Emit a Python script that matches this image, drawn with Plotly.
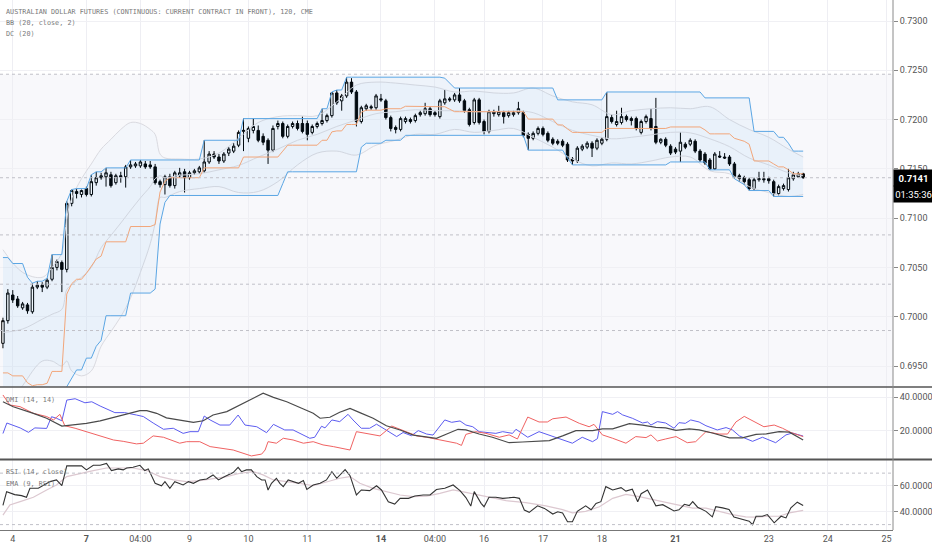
import plotly.graph_objects as go
from plotly.subplots import make_subplots

# 120-minute bars, index 0..163
opens = [
    0.6973, 0.6996, 0.7022, 0.7018, 0.7009, 0.7012, 0.7005, 0.7030, 0.7032, 0.7030,
    0.7038, 0.7050, 0.7055, 0.7048, 0.7115, 0.7127, 0.7124, 0.7130, 0.7124, 0.7136,
    0.7141, 0.7142, 0.7144, 0.7136, 0.7143, 0.7142, 0.7152, 0.7153, 0.7153, 0.7155,
    0.7154, 0.7152, 0.7137, 0.7134, 0.7142, 0.7133, 0.7143, 0.7147, 0.7141, 0.7146,
    0.7147, 0.7148, 0.7157, 0.7165, 0.7162, 0.7158, 0.7166, 0.7168, 0.7174, 0.7188,
    0.7181, 0.7189, 0.7189, 0.7183, 0.7179, 0.7169, 0.7193, 0.7196, 0.7183, 0.7193,
    0.7196, 0.7196, 0.7196, 0.7187, 0.7193, 0.7196, 0.7199, 0.7204, 0.7227, 0.7219,
    0.7224, 0.7238, 0.7228, 0.7198, 0.7211, 0.7213, 0.7212, 0.7221, 0.7219, 0.7202,
    0.7192, 0.7190, 0.7198, 0.7200, 0.7199, 0.7205, 0.7206, 0.7211, 0.7207, 0.7203,
    0.7217, 0.7221, 0.7220, 0.7225, 0.7219, 0.7210, 0.7197, 0.7220, 0.7198, 0.7188,
    0.7208, 0.7205, 0.7207, 0.7204, 0.7205, 0.7207, 0.7207, 0.7185, 0.7181, 0.7186,
    0.7191, 0.7186, 0.7180, 0.7178, 0.7178, 0.7175, 0.7160, 0.7158, 0.7170, 0.7172,
    0.7176, 0.7171, 0.7176, 0.7180, 0.7202, 0.7195, 0.7197, 0.7203, 0.7201, 0.7201,
    0.7187, 0.7198, 0.7201, 0.7193, 0.7177, 0.7180, 0.7173, 0.7170, 0.7168, 0.7175,
    0.7175, 0.7178, 0.7168, 0.7165, 0.7159, 0.7150, 0.7163, 0.7162, 0.7162, 0.7155,
    0.7143, 0.7141, 0.7139, 0.7130, 0.7139, 0.7140, 0.7140, 0.7137, 0.7125, 0.7130,
    0.7129, 0.7140, 0.7142, 0.7145,
]
highs = [
    0.6999, 0.7028, 0.7027, 0.7021, 0.7015, 0.7014, 0.7034, 0.7036, 0.7035, 0.7039,
    0.7063, 0.7058, 0.7057, 0.7117, 0.7129, 0.7130, 0.7129, 0.7132, 0.7144, 0.7147,
    0.7146, 0.7151, 0.7147, 0.7145, 0.7147, 0.7154, 0.7159, 0.7157, 0.7159, 0.7158,
    0.7158, 0.7155, 0.7139, 0.7144, 0.7145, 0.7148, 0.7151, 0.7150, 0.7148, 0.7150,
    0.7153, 0.7179, 0.7168, 0.7168, 0.7165, 0.7167, 0.7172, 0.7176, 0.7189, 0.7201,
    0.7193, 0.7201, 0.7194, 0.7186, 0.7181, 0.7194, 0.7199, 0.7198, 0.7195, 0.7198,
    0.7199, 0.7203, 0.7199, 0.7195, 0.7198, 0.7211, 0.7206, 0.7228, 0.7230, 0.7226,
    0.7243, 0.7242, 0.7230, 0.7214, 0.7216, 0.7215, 0.7226, 0.7226, 0.7221, 0.7204,
    0.7194, 0.7203, 0.7203, 0.7202, 0.7206, 0.7209, 0.7217, 0.7213, 0.7209, 0.7221,
    0.7230, 0.7223, 0.7227, 0.7232, 0.7221, 0.7212, 0.7222, 0.7222, 0.7200, 0.7210,
    0.7210, 0.7214, 0.7209, 0.7209, 0.7209, 0.7218, 0.7209, 0.7187, 0.7188, 0.7193,
    0.7193, 0.7188, 0.7182, 0.7180, 0.7180, 0.7177, 0.7162, 0.7173, 0.7175, 0.7178,
    0.7178, 0.7181, 0.7182, 0.7228, 0.7205, 0.7209, 0.7212, 0.7205, 0.7203, 0.7203,
    0.7200, 0.7205, 0.7211, 0.7222, 0.7181, 0.7182, 0.7175, 0.7172, 0.7187, 0.7177,
    0.7181, 0.7180, 0.7170, 0.7167, 0.7161, 0.7167, 0.7168, 0.7166, 0.7164, 0.7157,
    0.7145, 0.7143, 0.7141, 0.7141, 0.7147, 0.7147, 0.7142, 0.7139, 0.7134, 0.7135,
    0.7150, 0.7147, 0.7147, 0.7146,
]
lows = [
    0.6968, 0.6993, 0.7014, 0.7009, 0.7007, 0.7003, 0.7003, 0.7028, 0.7025, 0.7028,
    0.7036, 0.7047, 0.7025, 0.7045, 0.7112, 0.7120, 0.7121, 0.7122, 0.7122, 0.7133,
    0.7139, 0.7132, 0.7131, 0.7134, 0.7136, 0.7131, 0.7150, 0.7151, 0.7151, 0.7150,
    0.7150, 0.7134, 0.7131, 0.7124, 0.7131, 0.7130, 0.7141, 0.7126, 0.7139, 0.7144,
    0.7145, 0.7146, 0.7155, 0.7160, 0.7155, 0.7156, 0.7163, 0.7166, 0.7172, 0.7168,
    0.7177, 0.7186, 0.7177, 0.7174, 0.7155, 0.7167, 0.7190, 0.7181, 0.7181, 0.7191,
    0.7189, 0.7186, 0.7179, 0.7185, 0.7191, 0.7194, 0.7197, 0.7202, 0.7215, 0.7209,
    0.7222, 0.7226, 0.7193, 0.7196, 0.7209, 0.7210, 0.7210, 0.7218, 0.7200, 0.7188,
    0.7186, 0.7188, 0.7196, 0.7196, 0.7197, 0.7203, 0.7204, 0.7203, 0.7203, 0.7201,
    0.7215, 0.7218, 0.7218, 0.7217, 0.7207, 0.7193, 0.7195, 0.7195, 0.7185, 0.7186,
    0.7203, 0.7203, 0.7196, 0.7202, 0.7203, 0.7205, 0.7182, 0.7169, 0.7179, 0.7184,
    0.7183, 0.7177, 0.7174, 0.7174, 0.7172, 0.7157, 0.7154, 0.7156, 0.7168, 0.7170,
    0.7162, 0.7169, 0.7174, 0.7178, 0.7196, 0.7193, 0.7195, 0.7198, 0.7194, 0.7189,
    0.7185, 0.7196, 0.7189, 0.7175, 0.7175, 0.7172, 0.7164, 0.7165, 0.7157, 0.7170,
    0.7173, 0.7166, 0.7157, 0.7154, 0.7149, 0.7149, 0.7161, 0.7160, 0.7153, 0.7140,
    0.7137, 0.7134, 0.7128, 0.7128, 0.7137, 0.7136, 0.7135, 0.7122, 0.7123, 0.7128,
    0.7127, 0.7138, 0.7141, 0.7140,
]
closes = [
    0.6996, 0.7024, 0.7017, 0.7011, 0.7013, 0.7006, 0.7030, 0.7032, 0.7030, 0.7037,
    0.7050, 0.7056, 0.7048, 0.7115, 0.7128, 0.7125, 0.7128, 0.7124, 0.7137, 0.7141,
    0.7143, 0.7146, 0.7133, 0.7143, 0.7142, 0.7152, 0.7154, 0.7155, 0.7157, 0.7152,
    0.7152, 0.7136, 0.7134, 0.7142, 0.7133, 0.7146, 0.7146, 0.7141, 0.7146, 0.7148,
    0.7151, 0.7157, 0.7165, 0.7162, 0.7158, 0.7165, 0.7170, 0.7173, 0.7187, 0.7189,
    0.7191, 0.7193, 0.7179, 0.7177, 0.7169, 0.7191, 0.7196, 0.7183, 0.7193, 0.7196,
    0.7191, 0.7188, 0.7185, 0.7193, 0.7196, 0.7199, 0.7204, 0.7227, 0.7217, 0.7224,
    0.7238, 0.7228, 0.7198, 0.7212, 0.7214, 0.7212, 0.7224, 0.7220, 0.7202, 0.7191,
    0.7190, 0.7201, 0.7201, 0.7198, 0.7204, 0.7207, 0.7211, 0.7205, 0.7205, 0.7219,
    0.7221, 0.7220, 0.7225, 0.7219, 0.7209, 0.7195, 0.7220, 0.7197, 0.7188, 0.7208,
    0.7206, 0.7208, 0.7203, 0.7207, 0.7207, 0.7211, 0.7184, 0.7181, 0.7186, 0.7191,
    0.7185, 0.7179, 0.7176, 0.7176, 0.7174, 0.7159, 0.7158, 0.7171, 0.7173, 0.7176,
    0.7171, 0.7179, 0.7180, 0.7203, 0.7198, 0.7198, 0.7203, 0.7200, 0.7199, 0.7191,
    0.7198, 0.7203, 0.7191, 0.7177, 0.7180, 0.7174, 0.7166, 0.7167, 0.7177, 0.7172,
    0.7179, 0.7168, 0.7159, 0.7156, 0.7150, 0.7165, 0.7162, 0.7161, 0.7155, 0.7142,
    0.7140, 0.7137, 0.7130, 0.7139, 0.7140, 0.7139, 0.7138, 0.7125, 0.7132, 0.7133,
    0.7141, 0.7144, 0.7145, 0.7141,
]

# Donchian channel (20): bar where the band changes, and its new value
dc_up_bar = [0, 2, 4, 5, 6, 7, 9, 10, 13, 14, 15, 18, 19, 21, 26, 41, 49, 65, 67, 68,
             70, 90, 91, 92, 113, 123, 143, 153, 158, 160, 161]
dc_up_val = [0.7060, 0.7054, 0.7054, 0.7040, 0.7034, 0.7036, 0.7039, 0.7063, 0.7117, 0.7129,
             0.7130, 0.7144, 0.7147, 0.7151, 0.7159, 0.7179, 0.7201, 0.7211, 0.7228, 0.7230,
             0.7243, 0.7242, 0.7237, 0.7232, 0.7220, 0.7228, 0.7222, 0.7188, 0.7182, 0.7176,
             0.7168]
dc_lo_bar = [0, 13, 14, 15, 17, 19, 20, 21, 26, 31, 32, 33, 34, 57, 58, 73, 74, 78, 82, 107,
             115, 116, 136, 144, 149, 150, 151, 152, 157]
dc_lo_val = [0.6826, 0.6929, 0.6938, 0.6946, 0.6958, 0.6970, 0.6976, 0.7001, 0.7024, 0.7028,
             0.7094, 0.7116, 0.7123, 0.7135, 0.7147, 0.7172, 0.7176, 0.7179, 0.7184, 0.7169,
             0.7161, 0.7154, 0.7157, 0.7149, 0.7140, 0.7137, 0.7134, 0.7128, 0.7122]

# Bollinger bands (20, close, 2), read every few bars
bb_x = [0, 4, 8, 10, 12, 13, 14, 16, 18, 20, 22, 24, 26, 28, 30, 31, 32, 33, 36, 40,
        44, 48, 52, 56, 60, 64, 68, 72, 76, 80, 84, 88, 92, 96, 100, 104, 108, 112, 116, 120,
        124, 128, 132, 136, 140, 144, 148, 152, 156, 160, 163]
bb_upper = [0.7068, 0.7045, 0.7040, 0.7050, 0.7065, 0.7100, 0.7120, 0.7140, 0.7155, 0.7170,
            0.7180, 0.7190, 0.7197, 0.7196, 0.7190, 0.7185, 0.7165, 0.7161, 0.7160, 0.7160,
            0.7166, 0.7181, 0.7197, 0.7203, 0.7204, 0.7204, 0.7218, 0.7235, 0.7238, 0.7237,
            0.7235, 0.7233, 0.7228, 0.7229, 0.7227, 0.7227, 0.7232, 0.7224, 0.7218, 0.7215,
            0.7205, 0.7209, 0.7211, 0.7212, 0.7211, 0.7213, 0.7200, 0.7190, 0.7182, 0.7170,
            0.7162]
bb_lower = [0.6900, 0.6930, 0.6955, 0.6955, 0.6950, 0.6955, 0.6945, 0.6940, 0.6945, 0.6970,
            0.6985, 0.7000, 0.7019, 0.7045, 0.7074, 0.7095, 0.7121, 0.7121, 0.7127, 0.7130,
            0.7132, 0.7126, 0.7127, 0.7137, 0.7154, 0.7166, 0.7168, 0.7164, 0.7174, 0.7179,
            0.7185, 0.7185, 0.7190, 0.7187, 0.7189, 0.7191, 0.7182, 0.7172, 0.7160, 0.7153,
            0.7156, 0.7155, 0.7158, 0.7162, 0.7162, 0.7148, 0.7145, 0.7132, 0.7126, 0.7122,
            0.7124]

# DMI (14, 14)
di_plus_x = [0, 0.8, 3.5, 5.2, 6.5, 8.9, 9.9, 10.9, 12, 13, 14.7, 16.7, 18.1, 19.8, 22.8, 24.8,
             27.2, 28.6, 30.6, 32.7, 34.7, 36.7, 38.1, 39.8, 41, 42.2, 44.2, 46.2, 47.9, 49.3,
             51.7, 53.7, 55.1, 57.4, 59.1, 60.8, 62.5, 63.5, 64.9, 65.6, 67, 68.6, 70.3, 71.3,
             73, 74.7, 76.1, 77.8, 80.2, 81.5, 83.2, 84.6, 86.3, 87.6, 90, 91.4, 93.1, 94.3,
             95.7, 97, 100.4, 101.8, 103.8, 104.5, 106.9, 109.2, 114, 116, 118, 120.1, 121.1,
             122.1, 124.2, 125.2, 126.2, 128.2, 130.3, 131.3, 132, 133.3, 135, 136.7, 137.7,
             139, 140.1, 141.8, 143.2, 145.5, 147.3, 148.6, 150, 152.7, 154.7, 157.4, 159.5,
             160.8, 163]
di_plus = [18.5, 24.7, 21.8, 19.2, 21.8, 21.5, 28.4, 27.5, 26, 38.2, 39, 36.6, 37.2, 34.7, 30.8,
           30.8, 29.4, 28.5, 24.7, 21, 21.6, 18.6, 19.6, 19.6, 28.8, 26.5, 23.5, 23.5, 29.4,
           23.5, 22.5, 19, 23.9, 20.6, 20.6, 18.1, 15.7, 16.3, 22.8, 21.8, 26.5, 25.5, 29.8,
           26.5, 21.6, 21.6, 24, 21, 16.7, 19.1, 17.2, 20.2, 18.2, 17.6, 26.5, 25.1, 25.9,
           23.5, 22.5, 19.6, 18.6, 19.6, 18.6, 21, 16.3, 19.6, 15.1, 12.8, 16.3, 13.7, 15.5,
           31.4, 29.8, 31.4, 29.5, 27.5, 24.7, 25.3, 23.5, 25.5, 24.7, 21.6, 24.9, 24.5, 26.5,
           25.3, 23.1, 20.6, 22, 20.6, 17.1, 13.9, 16.3, 13.1, 17.7, 18.8, 17]
di_minus_x = [0, 1.4, 3.5, 6.2, 8.9, 10.3, 11.6, 12.6, 14.7, 17, 19.8, 22.5, 24.5, 27.2, 28.6,
              30.6, 32.7, 36, 37.4, 40.1, 42.2, 44.2, 46.9, 50.6, 52.7, 53.4, 54, 55.7, 57.1,
              59.1, 61.2, 63.2, 65.2, 67.3, 69, 70.7, 72, 74.1, 76.8, 79.2, 80.9, 82.9, 84.3,
              86.3, 88.3, 90.4, 92.4, 93.4, 94.3, 96.3, 98.4, 101.1, 103.1, 104.8, 106.9,
              109.2, 110.9, 112, 114.7, 117.4, 119.4, 120.4, 122.1, 124.2, 126.9, 128.9, 131,
              132, 133.3, 135, 137.1, 139.4, 141.1, 143.2, 145.9, 147.6, 149.3, 151, 153, 155,
              157.1, 158.8, 160.5, 163]
di_minus = [41.2, 35.3, 34.3, 30.4, 28.5, 26.5, 29.8, 23.1, 21.6, 19.6, 17.1, 14.7, 13.9, 12.4,
            12.8, 17.1, 16.3, 12.8, 13.7, 13.7, 10.8, 9.8, 8.8, 5.3, 6.4, 8.8, 13.7, 12.8, 15.7,
            14.7, 12.8, 13.7, 11.8, 10.8, 9.8, 8.8, 19.6, 18.6, 17.1, 22.9, 21, 18.6, 17.1,
            16.3, 15.1, 13.7, 12.8, 11.5, 18, 19.6, 18.6, 16.3, 17.7, 15.3, 28.2, 25.3, 25.3,
            27.2, 28.2, 24.5, 22.5, 23.9, 17.7, 15.7, 12.8, 16.7, 16.1, 17.7, 14.1, 15.3, 16.7,
            13.1, 13.7, 19.6, 18.2, 18.2, 25.3, 28.6, 25.7, 22.5, 23.5, 21.6, 19.1, 16.7]
adx_x = [0, 2.1, 6.2, 8.9, 12, 13.6, 17, 19.8, 22.5, 25.2, 27.9, 29.3, 31.3, 33.3, 36, 38.8,
         40.8, 42.8, 45.6, 48.3, 51, 53, 55.1, 57.8, 60.5, 63.2, 64.6, 66.6, 68.6, 70.7, 72.7,
         75.4, 78.1, 80.9, 83.6, 86.3, 88.3, 90.4, 92.7, 94.3, 97, 99.7, 103.1, 105.8, 107.9,
         111.3, 114, 116.7, 120.1, 122.1, 124.2, 127.6, 130.3, 133, 135, 137.1, 139.8, 141.8,
         144.5, 148, 150.6, 153.4, 155.5, 158.1, 160.2, 163]
adx = [37.2, 34.3, 30.4, 27.5, 22.9, 23.5, 24.5, 26, 28, 30.4, 32, 32, 30.4, 27.7, 26.5, 25.1,
       26, 29.4, 31.4, 35.3, 39.2, 42.2, 39.8, 37.2, 33.8, 30.4, 27.5, 28.1, 31, 33.3, 30.8,
       27.5, 23.1, 20.6, 17.6, 16.7, 15.7, 18.2, 21, 20.6, 18.2, 16.3, 13.1, 13.5, 13.9, 14.3,
       17.1, 20.2, 20.2, 21.2, 21.2, 24.3, 23.5, 22.1, 21.8, 20.4, 21.2, 20.6, 18.8, 15.9,
       15.9, 18, 18.3, 19.6, 19.3, 14.7]

# RSI (14, close) and EMA (9, RSI)
rsi_x = [0, 0.75, 2.4, 3.8, 4.8, 5.5, 7.2, 9.6, 10.9, 12, 13, 14.7, 16, 17, 18.4, 19.8, 21.1,
         22.1, 23.5, 24.5, 25.2, 26.5, 27.9, 28.9, 29.6, 31, 32.3, 33, 34, 35, 36.7, 37.8, 38.8,
         40.1, 41.5, 42.8, 43.9, 45.2, 46.9, 47.9, 48.6, 49.6, 50.6, 51.7, 52.7, 53.4, 54, 54.7,
         55.7, 56.4, 57.1, 58.1, 59.1, 60.2, 61.2, 61.9, 63.2, 64.6, 65.9, 67, 68, 69.7, 70.7,
         72, 73, 74.7, 76.1, 77.1, 78.5, 79.8, 80.9, 82.6, 83.9, 85.6, 87, 88.3, 90, 91.7, 93.1,
         94.3, 95.3, 96, 97.4, 98, 99, 100.4, 101.8, 103, 104.1, 105.2, 106.2, 107.2, 108.9,
         110.3, 112, 113, 114, 115, 116, 117, 118.7, 119.8, 120.8, 121.8, 122.8, 124.2, 125.9,
         126.9, 128.2, 129.3, 130, 131.3, 133, 134.4, 135.7, 136.7, 137.7, 138.8, 139.8, 140.5,
         141.5, 143.2, 144.5, 145.2, 146.6, 147.9, 148.9, 150.6, 152, 152.7, 153.4, 154.7,
         155.7, 157.1, 158.5, 159.5, 160.5, 161.8, 163]
rsi = [45, 55.6, 53.3, 52.5, 51.2, 58.2, 58.2, 63.4, 64.7, 60.2, 75.6, 75.6, 75.6, 72.5, 76.1,
       76.1, 77.6, 72, 73.3, 72.5, 74, 74.5, 76.1, 72, 73.3, 62.1, 60.2, 63.4, 58.2, 63.4, 60.8,
       63.4, 62.1, 64.7, 65.4, 68.6, 64.7, 67.3, 70.4, 74.5, 71.1, 72.5, 72.5, 67.3, 64.7, 64.7,
       56.9, 62.1, 66, 62.1, 59.5, 64.7, 63.4, 62.1, 64.2, 57.3, 60.8, 62.1, 64.7, 71.1, 66,
       72.7, 68, 53, 56.9, 56.4, 60.2, 56.9, 47.8, 46, 50.4, 50.4, 52.2, 53, 53, 57.3, 58.2,
       60.8, 56.4, 51, 44.4, 55.6, 46.5, 43.9, 51.2, 51.2, 50.4, 51, 51.2, 50.4, 41.3, 39.5,
       44.6, 42.6, 38.2, 40, 39, 32.2, 32.2, 40.3, 44.6, 41.5, 46.5, 47.8, 59.5, 56.9, 58.7,
       56, 57.5, 47.8, 54, 56.9, 44.6, 45.5, 42.6, 40.6, 41.5, 45.8, 44.8, 47.8, 43.5, 40.3,
       36, 43.9, 43, 41.8, 35.8, 34, 32.7, 29.9, 36.5, 36.5, 37.8, 31.4, 36.5, 35.2, 43, 47.4,
       44.8]
ema_x = [0, 1.4, 3.5, 6.2, 8.9, 10.9, 13, 15.7, 18.4, 21.1, 23.8, 26.5, 29.3, 32, 34.7, 37.4,
         40.1, 42.8, 45.6, 48.3, 51, 53, 55.1, 57.8, 60.5, 63.2, 65.9, 68.6, 70.7, 72.7, 75.4,
         78.1, 80.9, 83.6, 86.3, 89, 91.7, 94.3, 98.4, 102.5, 106.5, 110.6, 114, 116, 118.7,
         121.5, 124.2, 126.9, 129.6, 132.3, 135, 137.7, 140.5, 143.2, 145.9, 148.6, 151.3,
         153.4, 156.1, 158.1, 160.2, 163]
ema = [37.4, 45.2, 47.8, 51.2, 56.9, 60.8, 67.3, 69.9, 72, 74, 74, 74, 72, 67.3, 64.7, 63.4,
       64.2, 66, 67.3, 69.9, 71.1, 68.6, 64.7, 63.4, 62.1, 60.2, 63.4, 66, 67.3, 62.1, 58.2,
       55.6, 53, 51.7, 52.2, 54.3, 56.9, 55, 51.7, 48.6, 47, 44.6, 41.6, 39.1, 40.3, 43.9, 50.4,
       53.5, 51.7, 49.5, 47, 44.6, 42.8, 42.8, 40.3, 37.8, 36, 35.8, 36.5, 36.5, 39.1, 41.1]

# date labels on the time axis (bar index where each sits)
tick_bars = [2, 17, 28, 38, 50, 62, 77, 88, 98, 110, 122, 137, 156, 168, 180]
tick_text = ["4", "<b>7</b>", "04:00", "9", "10", "11", "<b>14</b>", "04:00", "16", "17",
             "18", "<b>21</b>", "23", "24", "25"]

price_ticks = [0.6950, 0.7000, 0.7050, 0.7100, 0.7150, 0.7200, 0.7250, 0.7300]
dotted_levels = [0.7246, 0.7141, 0.7083, 0.7033, 0.6986]
last_price = 0.7141
countdown = "01:35:36"

n = len(closes)
bars = list(range(n))


def steps_to_bars(step_bars, step_vals, count):
    out, j = [], 0
    for i in range(count):
        while j + 1 < len(step_bars) and step_bars[j + 1] <= i:
            j += 1
        out.append(step_vals[j])
    return out


dc_up = steps_to_bars(dc_up_bar, dc_up_val, n)
dc_lo = steps_to_bars(dc_lo_bar, dc_lo_val, n)
dc_mid = [(u + l) / 2 for u, l in zip(dc_up, dc_lo)]
bb_mid = [(u + l) / 2 for u, l in zip(bb_upper, bb_lower)]

# pane edges in pixels: main 0-387, DMI 387-459, RSI 460-530 (of 530 plot px)
main_dom = [1 - 387 / 530, 1]
dmi_dom = [1 - 459 / 530, 1 - 387 / 530]
rsi_dom = [0, 1 - 460 / 530]

fig = make_subplots(rows=3, cols=1, shared_xaxes=True, vertical_spacing=0)

bb_line = dict(color="#dadae0", width=1, shape="spline")
fig.add_trace(go.Scatter(x=bb_x, y=bb_lower, mode="lines", line=bb_line, hoverinfo="skip"), row=1, col=1)
fig.add_trace(go.Scatter(x=bb_x, y=bb_upper, mode="lines", line=bb_line, fill="tonexty",
                         fillcolor="rgba(33,150,243,0.025)", hoverinfo="skip"), row=1, col=1)
fig.add_trace(go.Scatter(x=bb_x, y=bb_mid, mode="lines", line=bb_line, hoverinfo="skip"), row=1, col=1)

dc_line = dict(color="#5ba6e4", width=1)
fig.add_trace(go.Scatter(x=bars, y=dc_lo, mode="lines", line=dc_line, hoverinfo="skip"), row=1, col=1)
fig.add_trace(go.Scatter(x=bars, y=dc_up, mode="lines", line=dc_line, fill="tonexty",
                         fillcolor="rgba(33,150,243,0.045)", hoverinfo="skip"), row=1, col=1)
fig.add_trace(go.Scatter(x=bars, y=dc_mid, mode="lines", line=dict(color="#f2a67a", width=1),
                         hoverinfo="skip"), row=1, col=1)

fig.add_trace(go.Candlestick(
    x=bars, open=opens, high=highs, low=lows, close=closes,
    increasing=dict(line=dict(color="#000000", width=1), fillcolor="#ffffff"),
    decreasing=dict(line=dict(color="#000000", width=1), fillcolor="#000000"),
    whiskerwidth=0, hoverinfo="skip",
), row=1, col=1)

fig.add_trace(go.Scatter(x=di_plus_x, y=di_plus, mode="lines", line=dict(color="#5c5cf0", width=1)), row=2, col=1)
fig.add_trace(go.Scatter(x=di_minus_x, y=di_minus, mode="lines", line=dict(color="#f06262", width=1)), row=2, col=1)
fig.add_trace(go.Scatter(x=adx_x, y=adx, mode="lines", line=dict(color="#4a4a4a", width=1.2)), row=2, col=1)

fig.add_trace(go.Scatter(x=ema_x, y=ema, mode="lines", line=dict(color="#dcc8d0", width=1.2)), row=3, col=1)
fig.add_trace(go.Scatter(x=rsi_x, y=rsi, mode="lines", line=dict(color="#333333", width=1.1)), row=3, col=1)

axis_font = dict(family="Roboto, sans-serif", size=9, color="#555555")
fig.update_xaxes(range=[-0.6, 181.3], tickvals=tick_bars, ticktext=tick_text, showgrid=True,
                 gridcolor="#eeeef3", zeroline=False, showticklabels=False, ticks="",
                 rangeslider_visible=False)
fig.update_xaxes(showticklabels=True, tickfont=axis_font, showline=True, linecolor="#777777",
                 row=3, col=1)

y_common = dict(side="right", ticks="outside", ticklen=4, tickcolor="#888888", tickfont=axis_font,
                zeroline=False, gridcolor="#f0f0f4", showline=False)
fig.update_layout(
    yaxis=dict(domain=main_dom, range=[0.69287, 0.73213], tickvals=price_ticks, tickformat=".4f", **y_common),
    yaxis2=dict(domain=dmi_dom, range=[3.5, 45.9], tickvals=[20, 40], tickformat=".4f", **y_common),
    yaxis3=dict(domain=rsi_dom, range=[25.8, 80.2], tickvals=[40, 60], tickformat=".4f", **y_common),
)

shapes = [
    dict(type="rect", xref="paper", yref="y", x0=0, x1=1, y0=0.69287, y1=dotted_levels[0],
         fillcolor="#f8f8fb", line=dict(width=0), layer="below"),
]
for lvl in dotted_levels:
    shapes.append(dict(type="line", xref="paper", yref="y", x0=0, x1=1, y0=lvl, y1=lvl,
                       line=dict(color="#c0c0c8", width=1, dash="dot")))
for lvl in [30, 70]:
    shapes.append(dict(type="line", xref="paper", yref="y3", x0=0, x1=1, y0=lvl, y1=lvl,
                       line=dict(color="#c0c0c8", width=1, dash="dot")))
shapes += [
    dict(type="line", xref="paper", yref="paper", x0=0, x1=932 / 893, y0=main_dom[0], y1=main_dom[0],
         line=dict(color="#555555", width=1.5)),
    dict(type="line", xref="paper", yref="paper", x0=0, x1=932 / 893, y0=1 - 459.5 / 530, y1=1 - 459.5 / 530,
         line=dict(color="#555555", width=2)),
    dict(type="line", xref="paper", yref="paper", x0=1, x1=1, y0=0, y1=1,
         line=dict(color="#8a8a8a", width=1)),
]

mono = dict(family="DejaVu Sans Mono, monospace", size=6.8, color="#7a7a7a")
labels = [
    ("AUSTRALIAN DOLLAR FUTURES (CONTINUOUS: CURRENT CONTRACT IN FRONT), 120, CME", 12),
    ("BB (20, close, 2)", 23),
    ("DC (20)", 34),
    ("DMI (14, 14)", 400),
    ("RSI (14, close)", 472),
    ("EMA (9, RSI)", 484),
]
annotations = [dict(text=t, xref="paper", yref="paper", x=4 / 893, y=1 - py / 530, xanchor="left",
                    yanchor="middle", showarrow=False, font=mono) for t, py in labels]
box_font = dict(family="Roboto, sans-serif", size=9.5, color="#ffffff")
annotations.append(dict(text="<b>%.4f</b>" % last_price, xref="paper", yref="y", x=1, y=last_price,
                        xanchor="left", yanchor="middle", showarrow=False, font=box_font,
                        bgcolor="#000000", width=37, height=14, align="center"))
annotations.append(dict(text=countdown, xref="paper", yref="y", x=1, y=last_price, yshift=-16,
                        xanchor="left", yanchor="middle", showarrow=False, font=box_font,
                        bgcolor="#000000", width=37, height=14, align="center"))

fig.update_layout(
    width=932, height=550,
    margin=dict(l=0, r=39, t=0, b=20, pad=0),
    paper_bgcolor="#ffffff", plot_bgcolor="#ffffff",
    showlegend=False, shapes=shapes, annotations=annotations,
    hovermode=False,
)

fig.write_html("out.html", config={"displayModeBar": False},
               post_script="document.body.style.margin='0px';")
